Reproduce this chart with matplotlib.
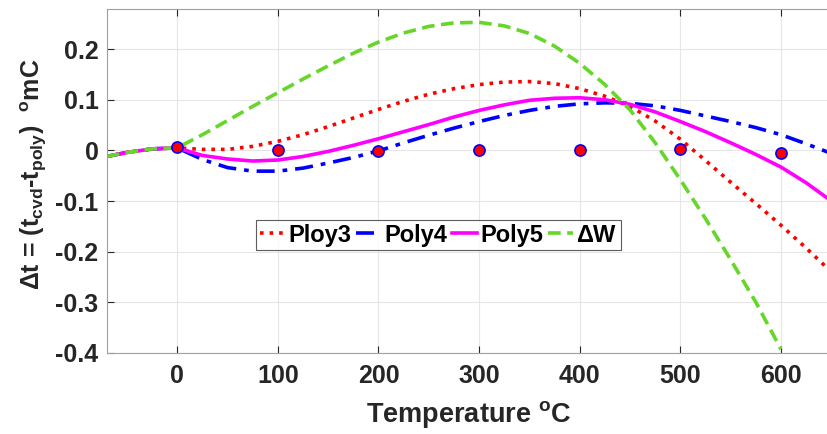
import matplotlib
matplotlib.use("Agg")
import matplotlib.pyplot as plt

plt.rcParams['font.family'] = ['Liberation Sans', 'DejaVu Sans']
plt.rcParams['font.weight'] = 'bold'
plt.rcParams['axes.labelweight'] = 'bold'
plt.rcParams['mathtext.default'] = 'regular'

# values
t_left = [-70, -50, -25, 0]
d_left = [-0.012, -0.004, 0.003, 0.005]

t = [0, 25, 50, 75, 100, 125, 150, 175, 200, 225, 250, 275, 300, 325, 350,
     375, 400, 425, 450, 475, 500, 525, 550, 575, 600, 625, 650]
poly3 = [0.005, 0.002, 0.002, 0.008, 0.018, 0.031, 0.047, 0.064, 0.081, 0.097,
         0.111, 0.122, 0.130, 0.135, 0.136, 0.132, 0.122, 0.107, 0.087, 0.058,
         0.022, -0.020, -0.063, -0.105, -0.148, -0.193, -0.240]
poly4 = [0.005, -0.018, -0.034, -0.041, -0.041, -0.035, -0.025, -0.014, -0.001,
         0.015, 0.030, 0.044, 0.057, 0.069, 0.079, 0.087, 0.092, 0.094, 0.093,
         0.088, 0.079, 0.068, 0.057, 0.045, 0.031, 0.013, -0.006]
poly5 = [0.005, -0.010, -0.017, -0.021, -0.019, -0.012, -0.002, 0.010, 0.023,
         0.037, 0.051, 0.066, 0.079, 0.090, 0.099, 0.103, 0.104, 0.100, 0.091,
         0.076, 0.057, 0.037, 0.015, -0.008, -0.033, -0.064, -0.100]

t_w = [0, 25, 50, 75, 100, 125, 150, 175, 200, 225, 250, 275, 300, 325, 350,
       375, 400, 425, 450, 475, 500, 525, 550, 575, 600]
dW = [0.005, 0.031, 0.059, 0.087, 0.114, 0.141, 0.167, 0.192, 0.214, 0.232,
      0.245, 0.252, 0.253, 0.246, 0.231, 0.206, 0.172, 0.130, 0.080, 0.015,
      -0.058, -0.135, -0.216, -0.300, -0.393]

t_pts = [0, 100, 200, 300, 400, 500, 600]
d_pts = [0.007, 0.0, -0.001, 0.0, 0.0, 0.002, -0.006]

fig = plt.figure(figsize=(8.28, 4.34), dpi=100)
ax = fig.add_axes([0.129, 0.187, 0.875, 0.793])

lw = 2.6
ax.plot(t_left + t[1:], d_left + poly3[1:], ':', color='red', lw=lw, label='Ploy3')
ax.plot(t_left + t[1:], d_left + poly4[1:], '-.', color='blue', lw=lw, label='Poly4',
        dashes=(5, 2.2, 1.3, 2.2))
ax.plot(t_left + t[1:], d_left + poly5[1:], '-', color='magenta', lw=lw, label='Poly5')
ax.plot(t_left + t_w[1:], d_left + dW[1:], '--', color='#66d62a', lw=lw, label=r'$\Delta$W',
        dashes=(3.5, 1.8))
ax.plot(t_pts, d_pts, 'o', color='red', markeredgecolor='blue', markeredgewidth=1.2,
        markersize=8, zorder=5)

ax.set_xlim(-70, 650)
ax.set_ylim(-0.4, 0.28)
ax.set_xticks([0, 100, 200, 300, 400, 500, 600])
ax.set_yticks([-0.4, -0.3, -0.2, -0.1, 0, 0.1, 0.2])
ax.set_yticklabels(['-0.4', '-0.3', '-0.2', '-0.1', '0', '0.1', '0.2'])
ax.grid(True, color='#e6e6e6', lw=0.8)
ax.tick_params(direction='in', length=5, width=0.8, labelsize=18, colors='#262626',
               top=True, right=False)
ax.tick_params(axis='x', pad=8)
ax.tick_params(axis='y', pad=6)
for s in ax.spines.values():
    s.set_color('#a0a0a0')
    s.set_linewidth(0.8)

ax.set_xlabel(r'Temperature $^{o}$C', fontsize=19.5, color='#262626', fontweight='bold')
ax.xaxis.set_label_coords(0.5, -0.135)
ax.set_ylabel(r'$\Delta$t = (t$_{cvd}$-t$_{poly}$)  $^{o}$mC', fontsize=18,
              color='#262626', fontweight='bold')
ax.yaxis.set_label_coords(-0.08, 0.52)

leg = ax.legend(loc='center', bbox_to_anchor=(0.458, 0.342), ncol=4,
                prop={'size': 17, 'weight': 'bold'},
                frameon=True, fancybox=False, edgecolor='#333333', handlelength=1.05,
                handletextpad=0.15, columnspacing=0.2, borderpad=0.15, borderaxespad=0)
leg.get_frame().set_linewidth(0.8)

fig.savefig('out.png', dpi=100)
